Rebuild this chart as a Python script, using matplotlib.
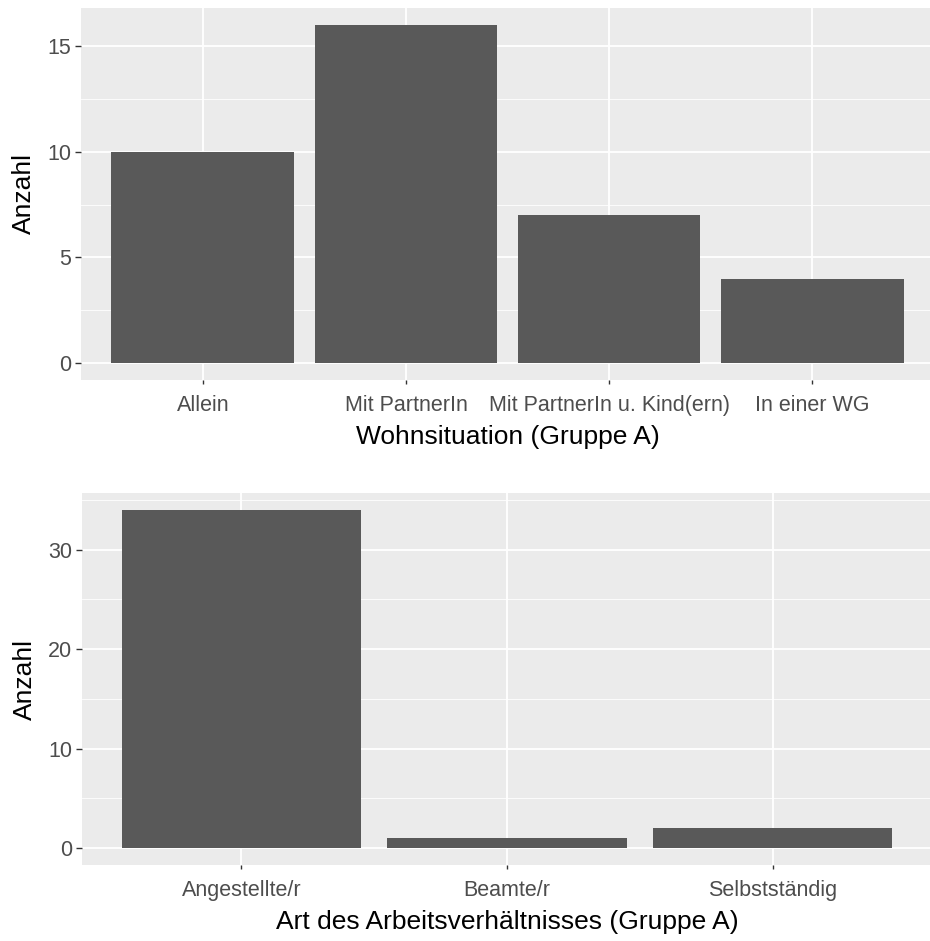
import matplotlib.pyplot as plt
from matplotlib.ticker import MultipleLocator

wohn_labels = ["Allein", "Mit PartnerIn", "Mit PartnerIn u. Kind(ern)", "In einer WG"]
wohn_counts = [10, 16, 7, 4]

arbeit_labels = ["Angestellte/r", "Beamte/r", "Selbstständig"]
arbeit_counts = [34, 1, 2]

PANEL_BG = "#EBEBEB"
BAR_COLOR = "#595959"
TICK_COLOR = "#4D4D4D"

plt.rcParams["font.family"] = ["Liberation Sans", "DejaVu Sans"]


def gg_bar(ax, labels, counts, xlabel, major, minor):
    x = list(range(1, len(labels) + 1))
    ax.set_facecolor(PANEL_BG)
    ax.bar(x, counts, width=0.9, color=BAR_COLOR, zorder=3)
    n = len(labels)
    ax.set_xlim(0.4, n + 0.6)
    top = max(counts)
    ax.set_ylim(-0.05 * top, top * 1.05)
    ax.set_xticks(x)
    ax.set_xticklabels(labels)
    ax.yaxis.set_major_locator(MultipleLocator(major))
    ax.yaxis.set_minor_locator(MultipleLocator(minor))
    ax.grid(which="major", color="white", linewidth=1.3, zorder=1)
    ax.grid(which="minor", axis="y", color="white", linewidth=0.6, zorder=1)
    for s in ax.spines.values():
        s.set_visible(False)
    ax.tick_params(axis="y", which="major", length=4, width=1, color="#333333",
                   labelcolor=TICK_COLOR, labelsize=15.5, pad=3)
    ax.tick_params(axis="x", which="major", length=3, width=1, color="#333333",
                   labelcolor=TICK_COLOR, labelsize=15.5, pad=8)
    ax.tick_params(which="minor", length=0)
    ax.set_xlabel(xlabel, fontsize=19, color="black", labelpad=6)
    ax.set_ylabel("Anzahl", fontsize=19, color="black", labelpad=8)
    ax.set_axisbelow(True)


fig = plt.figure(figsize=(9.3, 9.41), dpi=100)
ax1 = fig.add_axes([81 / 930, 1 - 380 / 941, 853 / 930, 372 / 941])
ax2 = fig.add_axes([82 / 930, 1 - 865 / 941, 850 / 930, 372 / 941])

gg_bar(ax1, wohn_labels, wohn_counts, "Wohnsituation (Gruppe A)", 5, 2.5)
gg_bar(ax2, arbeit_labels, arbeit_counts, "Art des Arbeitsverhältnisses (Gruppe A)", 10, 5)

fig.savefig("out.png", dpi=100)
